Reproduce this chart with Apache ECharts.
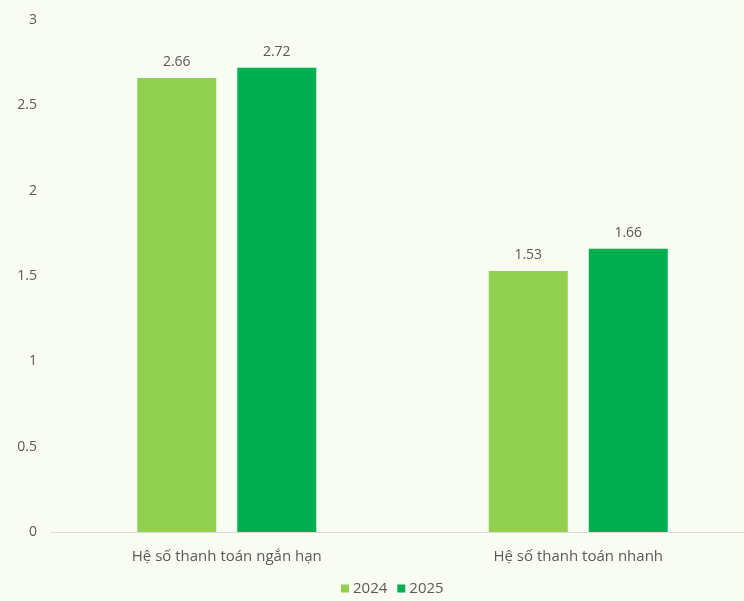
<!DOCTYPE html>
<html>
<head>
<meta charset="utf-8">
<script src="https://cdn.jsdelivr.net/npm/echarts@6/dist/echarts.min.js"></script>
<style>
  html, body { margin: 0; padding: 0; background: #f9fcf3; }
  #main { width: 744px; height: 601px; }
</style>
</head>
<body>
<div id="main"></div>
<script>
var categories = ['Hệ số thanh toán ngắn hạn', 'Hệ số thanh toán nhanh'];
var values2024 = [2.66, 1.53];
var values2025 = [2.72, 1.66];
var yTicks = [0, 0.5, 1, 1.5, 2, 2.5, 3];

var textColor = '#595959';
var fontName = 'Open Sans';

var myChart = echarts.init(document.getElementById('main'));

var option = {
    backgroundColor: '#f9fcf3',
    textStyle: { fontFamily: fontName },
    animation: false,
    grid: {
        left: 51,
        width: 703,
        top: 20,
        height: 512,
        outerBoundsMode: 'none'
    },
    legend: {
        data: ['2024', '2025'],
        left: 336,
        bottom: 0,
        itemWidth: 8,
        itemHeight: 8,
        itemGap: 10,
        icon: 'rect',
        textStyle: { color: textColor, fontSize: 15, padding: [0, 0, 0, -1] }
    },
    xAxis: {
        type: 'category',
        data: categories,
        axisLine: { lineStyle: { color: '#d9d9d9', width: 1 } },
        axisTick: { show: false },
        axisLabel: { color: textColor, fontSize: 15, margin: 17 }
    },
    yAxis: {
        type: 'value',
        min: 0,
        max: 3,
        interval: 0.5,
        splitLine: { show: false },
        axisLine: { show: false },
        axisTick: { show: false },
        axisLabel: {
            color: textColor,
            fontSize: 14,
            margin: 14,
            formatter: function (v) { return yTicks.indexOf(v) >= 0 ? String(v) : ''; }
        }
    },
    series: [
        {
            name: '2024',
            type: 'bar',
            data: values2024,
            barWidth: 79,
            barGap: '26.6%',
            itemStyle: { color: '#92d050' },
            label: { show: true, position: 'top', distance: 9, color: textColor, fontSize: 14 }
        },
        {
            name: '2025',
            type: 'bar',
            data: values2025,
            barWidth: 79,
            itemStyle: { color: '#00b050' },
            label: { show: true, position: 'top', distance: 9, color: textColor, fontSize: 14 }
        }
    ]
};

myChart.setOption(option);
</script>
</body>
</html>
